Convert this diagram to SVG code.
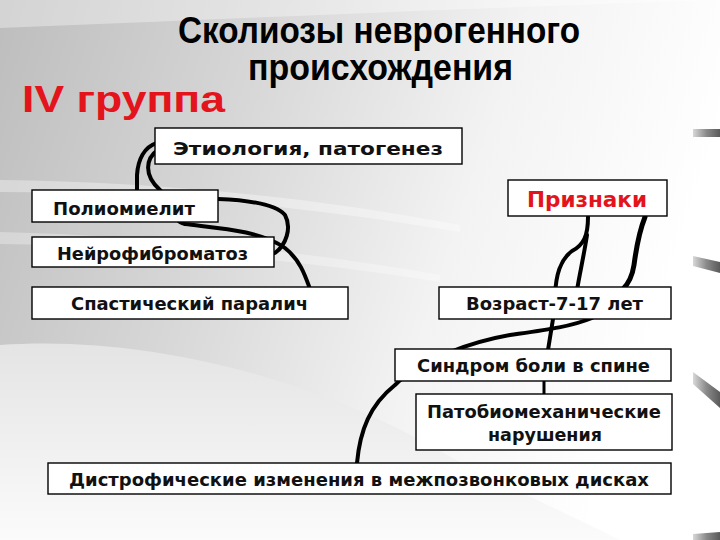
<svg xmlns="http://www.w3.org/2000/svg" width="720" height="540" viewBox="0 0 720 540">
<defs>
<linearGradient id="bg" x1="0" y1="0" x2="1" y2="0.25">
<stop offset="0" stop-color="#bdbdbd"/>
<stop offset="0.35" stop-color="#d6d6d6"/>
<stop offset="0.7" stop-color="#f3f3f3"/>
<stop offset="1" stop-color="#ffffff"/>
</linearGradient>
<linearGradient id="low" x1="0" y1="0" x2="0" y2="1">
<stop offset="0" stop-color="#e4e4e4"/>
<stop offset="1" stop-color="#fbfbfb"/>
</linearGradient>
<linearGradient id="bar" x1="0" y1="0" x2="1" y2="0">
<stop offset="0" stop-color="#d8d8d8"/>
<stop offset="0.5" stop-color="#8a8a8a"/>
<stop offset="1" stop-color="#5a5a5a"/>
</linearGradient>
<style>
.box{fill:#ffffff;stroke:#000;stroke-width:1.4}
.t{font-family:"DejaVu Sans",Verdana,sans-serif;font-weight:bold;font-size:17px;fill:#111}
.c{fill:none;stroke:#000;stroke-width:4;stroke-linecap:round;stroke-linejoin:round}
.title{font-family:"Liberation Sans Narrow","Liberation Sans",Arial,sans-serif;font-weight:bold;font-size:36px;fill:#000}
</style>
</defs>
<g id="background">
<rect x="0" y="0" width="720" height="540" fill="url(#bg)"/>
<path d="M0,28 C200,20 420,10 720,0 L720,0 L0,0 Z" fill="#ffffff" opacity="0.35"/>
<path d="M0,180 C150,182 300,195 460,225 L460,232 C300,205 150,192 0,192 Z" fill="#ffffff" opacity="0.35"/>
<path d="M0,232 C150,236 300,250 440,275 L440,282 C300,260 150,246 0,244 Z" fill="#ffffff" opacity="0.3"/>
<path d="M0,345 C140,335 300,375 420,440 C480,475 560,510 620,540 L0,540 Z" fill="url(#low)"/>
<path d="M693,129 L720,129 L720,137 L693,137 Z" fill="url(#bar)"/>
<path d="M693,256 L720,262 L720,273 L693,266 Z" fill="url(#bar)"/>
<path d="M693,372 L720,392 L720,408 L693,384 Z" fill="url(#bar)"/>
<path d="M693,534 L720,532 L720,540 L693,540 Z" fill="url(#bar)"/>
</g>
<g id="titles">
<text class="title" x="178" y="43" textLength="402" lengthAdjust="spacingAndGlyphs">Сколиозы неврогенного</text>
<text class="title" x="248" y="80" textLength="265" lengthAdjust="spacingAndGlyphs">происхождения</text>
<text class="title" x="22" y="112" font-size="38" fill="#e3141b" style="fill:#e3141b" textLength="203" lengthAdjust="spacingAndGlyphs">IV группа</text>
</g>
<g id="connectors">
<path class="c" d="M157,143 C144,147 138,160 137,175 L137,192"/>
<path class="c" d="M158,150 C146,158 143,175 160,190 C175,205 170,220 185,224 C215,228 260,230 285,248 C300,260 305,275 310,289"/>
<path class="c" d="M218,199 C245,200 275,203 285,215 C292,228 286,245 275,253"/>
<path class="c" d="M588,217 C588,235 584,245 572,251 C560,260 556,275 555,295 L553,319 L548,350"/>
<path class="c" d="M587,235 C584,255 580,272 577,290"/>
<path class="c" style="stroke-width:5" d="M645,217 C639,232 636,250 634,265 C632,278 628,284 623,289"/>
<path class="c" d="M357,463 C360,430 370,405 395,385 C420,360 470,342 510,335 C545,330 570,327 592,318"/>
<path class="c" style="stroke-width:3" d="M544,381 L544,395"/>
</g>
<g id="n-etiology"><rect class="box" x="155" y="128" width="307" height="36"/><text class="t" x="173" y="155" textLength="270" lengthAdjust="spacingAndGlyphs">Этиология, патогенез</text></g>
<g id="n-polio"><rect class="box" x="32" y="190" width="186" height="32"/><text class="t" x="53" y="215" textLength="142" lengthAdjust="spacingAndGlyphs">Полиомиелит</text></g>
<g id="n-neuro"><rect class="box" x="32" y="237" width="242" height="30"/><text class="t" x="57" y="260" textLength="191" lengthAdjust="spacingAndGlyphs">Нейрофиброматоз</text></g>
<g id="n-spastic"><rect class="box" x="32" y="287" width="316" height="32"/><text class="t" x="71" y="310" textLength="237" lengthAdjust="spacingAndGlyphs">Спастический паралич</text></g>
<g id="n-signs"><rect class="box" x="508" y="180" width="159" height="36"/><text class="t" x="527" y="207" font-size="21" style="fill:#e3141b;font-size:21px" textLength="120" lengthAdjust="spacingAndGlyphs">Признаки</text></g>
<g id="n-age"><rect class="box" x="439" y="287" width="232" height="32"/><text class="t" x="466" y="310" textLength="177" lengthAdjust="spacingAndGlyphs">Возраст-7-17 лет</text></g>
<g id="n-pain"><rect class="box" x="395" y="349" width="276" height="32"/><text class="t" x="417" y="372" textLength="233" lengthAdjust="spacingAndGlyphs">Синдром боли в спине</text></g>
<g id="n-patho"><rect class="box" x="416" y="394" width="256" height="56"/><text class="t" x="427" y="418" textLength="234" lengthAdjust="spacingAndGlyphs">Патобиомеханические</text><text class="t" x="488" y="441" textLength="114" lengthAdjust="spacingAndGlyphs">нарушения</text></g>
<g id="n-dystro"><rect class="box" x="48" y="463" width="623" height="31"/><text class="t" x="69" y="486" textLength="580" lengthAdjust="spacingAndGlyphs">Дистрофические изменения в межпозвонковых дисках</text></g>
</svg>
